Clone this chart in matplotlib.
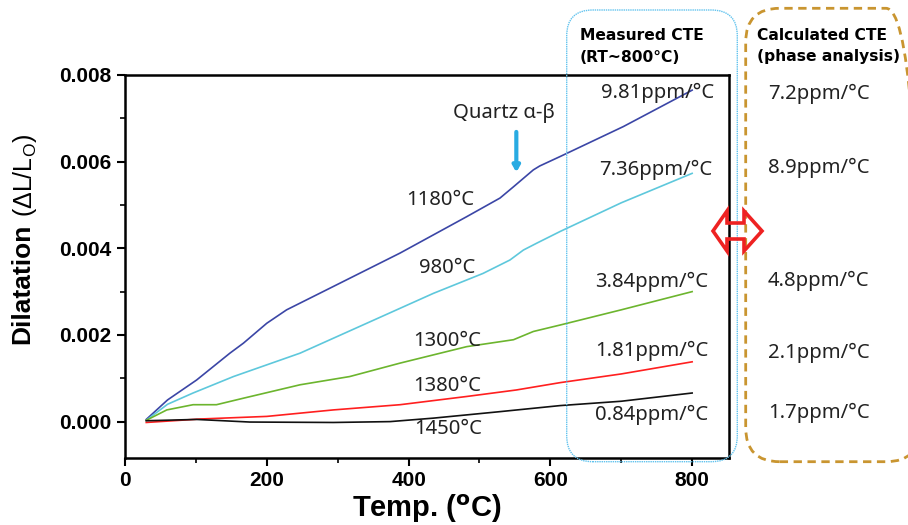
import matplotlib
matplotlib.use("Agg")
import matplotlib.pyplot as plt
from matplotlib.patches import FancyBboxPatch, Polygon
from matplotlib.transforms import IdentityTransform
from matplotlib.ticker import MultipleLocator

# ---------------- data ----------------
t_1180 = [30, 60, 101, 148, 167, 200, 228, 294, 388, 482, 529, 548, 576, 585, 614, 703, 800]
v_1180 = [0.00005, 0.0005, 0.00096, 0.00158, 0.00181, 0.00227, 0.00258, 0.00312, 0.00389, 0.00473,
          0.00516, 0.00542, 0.00581, 0.00590, 0.00612, 0.00681, 0.00765]
t_980 = [30, 60, 96, 153, 247, 341, 435, 505, 543, 562, 581, 614, 700, 800]
v_980 = [0.00003, 0.0004, 0.00066, 0.00104, 0.00158, 0.00227, 0.00296, 0.00342, 0.00373, 0.00396,
         0.00412, 0.00439, 0.00505, 0.00573]
t_1300 = [30, 59, 96, 129, 167, 247, 317, 388, 482, 548, 576, 614, 700, 800]
v_1300 = [0.00003, 0.00027, 0.00039, 0.00039, 0.00054, 0.00085, 0.00104, 0.00135, 0.00173, 0.00189,
          0.00208, 0.00223, 0.00258, 0.0030]
t_1380 = [30, 106, 200, 294, 388, 482, 552, 614, 700, 800]
v_1380 = [-0.00002, 0.00006, 0.00012, 0.00027, 0.00039, 0.00058, 0.00073, 0.0009, 0.00110, 0.00138]
t_1450 = [30, 101, 176, 294, 374, 435, 529, 614, 700, 800]
v_1450 = [0.00002, 0.00005, -0.00001, -0.00002, 0.0, 0.00008, 0.00023, 0.00037, 0.00047, 0.00066]

series = [
    ("1180", t_1180, v_1180, "#3b46a6"),
    ("980", t_980, v_980, "#5ec8dc"),
    ("1300", t_1300, v_1300, "#6cb52e"),
    ("1380", t_1380, v_1380, "#ff1f1f"),
    ("1450", t_1450, v_1450, "#111111"),
]

curve_labels = ["1180\u00b0C", "980\u00b0C", "1300\u00b0C", "1380\u00b0C", "1450\u00b0C"]
curve_label_t = [444, 454, 454, 454, 456]
curve_label_v = [0.00512, 0.00354, 0.00185, 0.00082, -0.00018]

measured_cte = ["9.81ppm/\u00b0C", "7.36ppm/\u00b0C", "3.84ppm/\u00b0C", "1.81ppm/\u00b0C", "0.84ppm/\u00b0C"]
measured_t = [752, 748, 743, 743, 743]
measured_v = [0.00759, 0.00582, 0.00323, 0.00164, 0.000155]

calculated_cte = ["7.2ppm/\u00b0C", "8.9ppm/\u00b0C", "4.8ppm/\u00b0C", "2.1ppm/\u00b0C", "1.7ppm/\u00b0C"]

x_ticks = [0, 200, 400, 600, 800]
y_ticks = [0.000, 0.002, 0.004, 0.006, 0.008]

# ---------------- figure ----------------
W, H = 908, 525
fig = plt.figure(figsize=(W / 100, H / 100), dpi=100)
ax = fig.add_axes([125 / W, 1 - 458 / H, (729 - 125) / W, (458 - 75) / H])

for name, t, v, c in series:
    ax.plot(t, v, color=c, lw=1.2)

ax.set_xlim(0, 852)
ax.set_ylim(-0.00084, 0.008)
ax.set_xticks(x_ticks)
ax.set_yticks(y_ticks)
ax.set_xticklabels([str(x) for x in x_ticks])
ax.set_yticklabels([f"{y:.3f}" for y in y_ticks])
ax.xaxis.set_minor_locator(MultipleLocator(100))
ax.yaxis.set_minor_locator(MultipleLocator(0.001))
ax.tick_params(which="major", direction="out", length=6, width=1.5, labelsize=15)
ax.tick_params(which="minor", direction="out", length=3.5, width=1.2)
for lab in ax.get_xticklabels() + ax.get_yticklabels():
    lab.set_fontweight("bold")
    lab.set_family("Liberation Sans")
for sp in ax.spines.values():
    sp.set_linewidth(1.8)

ax.set_xlabel("Temp. ($^{\\mathbf{o}}$C)", fontsize=21, fontweight="bold", family="Liberation Sans", labelpad=2)

# y label in two parts
fig.text(22 / W, 1 - 284 / H, "Dilatation", rotation=90, ha="center", va="center",
         fontsize=19, fontweight="bold", family="Liberation Sans")
fig.text(25 / W, 1 - 175 / H, "(\u0394L/L$_\\mathregular{O}$)", rotation=90, ha="center", va="center",
         fontsize=18, family="Liberation Sans")

af = ["Noto Sans", "DejaVu Sans"]
fs = 14.6
for s, tx, vy in zip(curve_labels, curve_label_t, curve_label_v):
    ax.text(tx, vy, s, ha="center", va="center", fontsize=fs, family=af, color="#222222")
for s, tx, vy in zip(measured_cte, measured_t, measured_v):
    ax.text(tx, vy, s, ha="center", va="center", fontsize=fs, family=af, color="#222222")

ax.text(535, 0.00712, "Quartz \u03b1-\u03b2", ha="center", va="center", fontsize=fs, family=af, color="#222222")
ax.annotate("", xy=(552, 0.00569), xytext=(552, 0.00675),
            arrowprops=dict(arrowstyle="-|>,head_length=0.35,head_width=0.2", color="#29abe2", lw=3))

# ---------------- right side decorations (pixel coords) ----------------
ident = IdentityTransform()
blue_box = FancyBboxPatch((566.7, H - 461.7), 737.3 - 566.7, 461.7 - 10,
                          boxstyle="round,pad=0,rounding_size=26", transform=ident,
                          fc="none", ec="#62c3ee", lw=1.0, ls=(0, (1, 0.6)))
fig.patches.append(blue_box)
gold_box = FancyBboxPatch((745.7, H - 461.7), 920 - 745.7, 461.7 - 8.3,
                          boxstyle="round,pad=0,rounding_size=34", transform=ident,
                          fc="none", ec="#c99530", lw=2.0, ls=(0, (3, 2)))
fig.patches.append(gold_box)

arrow_pts = [(713, 231), (727, 211), (727, 223), (744, 223), (744, 211), (762, 231),
             (744, 251), (744, 239), (727, 239), (727, 251)]
arrow = Polygon([(x, H - y) for x, y in arrow_pts], closed=True, transform=ident,
                fc="none", ec="#ee2222", lw=2.6, joinstyle="miter")
fig.patches.append(arrow)

hf = "DejaVu Sans"
hs = 11.2
fig.text(580 / W, 1 - 35 / H, "Measured CTE", ha="left", va="center", fontsize=hs, fontweight="bold", family=hf)
fig.text(580 / W, 1 - 57 / H, "(RT~800\u00b0C)", ha="left", va="center", fontsize=hs, fontweight="bold", family=hf)
fig.text(757 / W, 1 - 35 / H, "Calculated CTE", ha="left", va="center", fontsize=hs, fontweight="bold", family=hf)
fig.text(757 / W, 1 - 57 / H, "(phase analysis)", ha="left", va="center", fontsize=hs, fontweight="bold", family=hf)

calc_y = [94.3, 168.3, 281, 353.3, 412.7]
for s, yy in zip(calculated_cte, calc_y):
    fig.text(768 / W, 1 - yy / H, s, ha="left", va="center", fontsize=fs, family=af, color="#222222")

fig.savefig("out.png", dpi=100)
